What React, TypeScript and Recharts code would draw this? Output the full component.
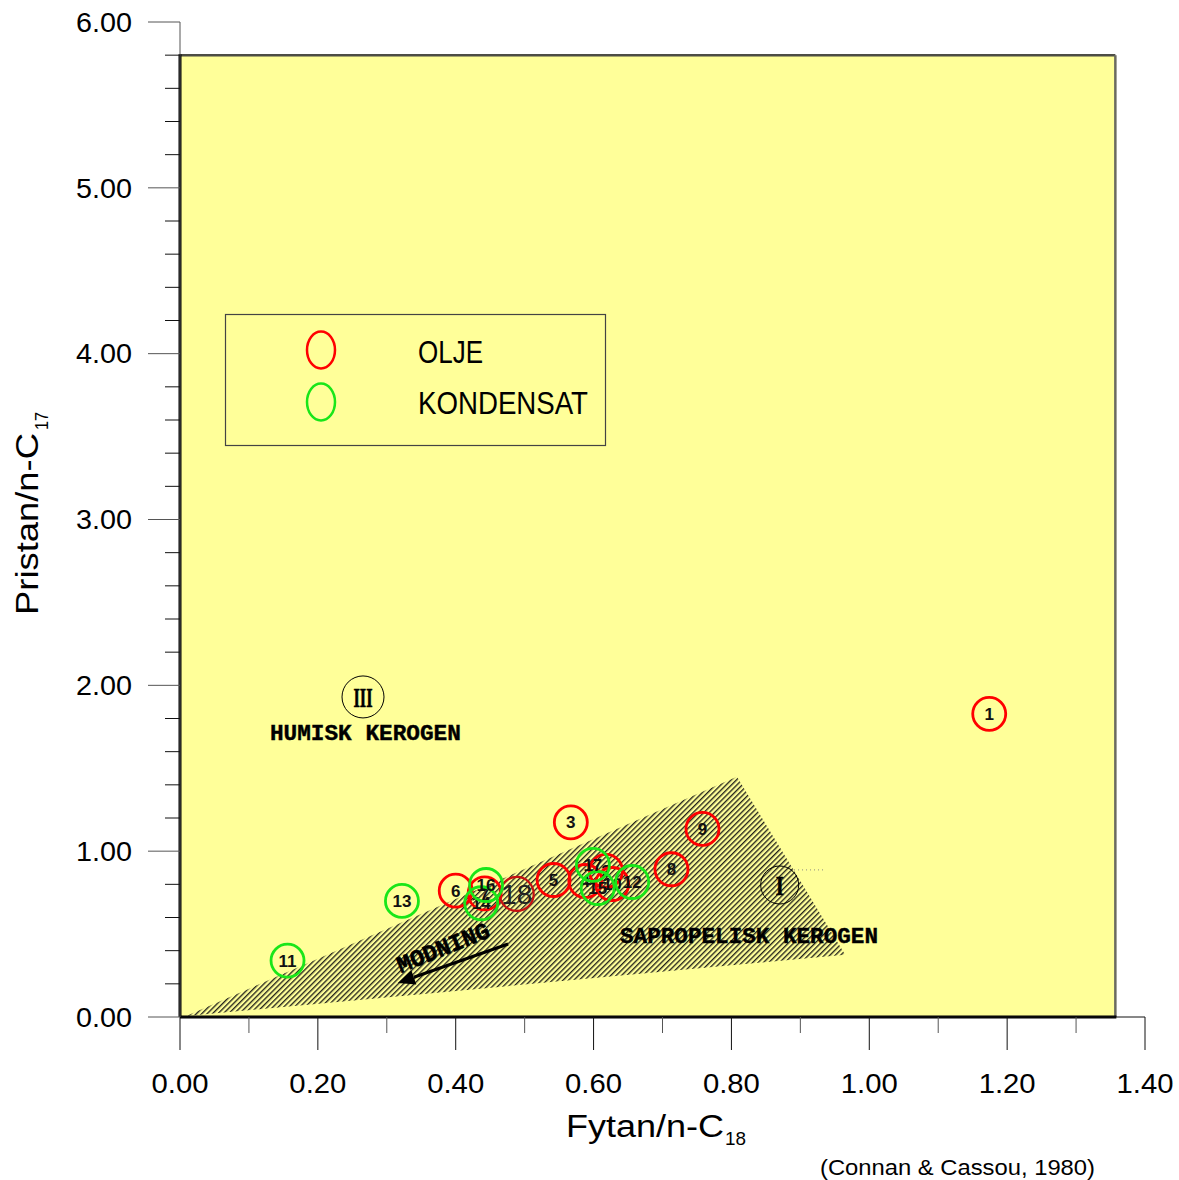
import React from 'react';
import { ScatterChart, Scatter, XAxis, YAxis, ReferenceArea } from 'recharts';

// ---- axis ticks ----
const X_TICKS = [0, 0.1, 0.2, 0.3, 0.4, 0.5, 0.6, 0.7, 0.8, 0.9, 1.0, 1.1, 1.2, 1.3, 1.4];
const Y_TICKS = [
  0, 0.2, 0.4, 0.6, 0.8, 1.0, 1.2, 1.4, 1.6, 1.8, 2.0, 2.2, 2.4, 2.6, 2.8, 3.0,
  3.2, 3.4, 3.6, 3.8, 4.0, 4.2, 4.4, 4.6, 4.8, 5.0, 5.2, 5.4, 5.6, 5.8, 6.0,
];

// ---- series ----
const SERIES_OLJE = 'OLJE';
const SERIES_KONDENSAT = 'KONDENSAT';

const oljeSamples = [
  { x: 1.174, y: 1.828, id: '1' },
  { x: 0.618, y: 0.881, id: '2' },
  { x: 0.567, y: 1.174, id: '3' },
  { x: 0.588, y: 0.82, id: '4' },
  { x: 0.542, y: 0.826, id: '5' },
  { x: 0.4, y: 0.762, id: '6' },
  { x: 0.442, y: 0.745, id: '7' },
  { x: 0.713, y: 0.891, id: '8' },
  { x: 0.758, y: 1.134, id: '9' },
  { x: 0.627, y: 0.802, id: '10' },
];

const oljeReference = [{ x: 0.4885, y: 0.742, id: '18' }];

const kondensatSamples = [
  { x: 0.156, y: 0.34, id: '11' },
  { x: 0.656, y: 0.814, id: '12' },
  { x: 0.322, y: 0.7, id: '13' },
  { x: 0.437, y: 0.686, id: '14' },
  { x: 0.606, y: 0.778, id: '15' },
  { x: 0.444, y: 0.796, id: '16' },
  { x: 0.599, y: 0.917, id: '17' },
];

// ---- kerogen fields and annotations ----
const panelExtent = { x1: 0, x2: 1.357, y1: 0, y2: 5.8 };
const sapropelicField = [
  { x: 0.009, y: 0.006 },
  { x: 0.808, y: 1.448 },
  { x: 0.965, y: 0.375 },
];
const kerogenTypes = [
  { x: 0.2655, y: 1.93, label: 'III', r: 21, w: 19 },
  { x: 0.87, y: 0.796, label: 'I', r: 19, w: 8 },
];
const fieldNames = [
  { x: 0.269, y: 1.719, label: 'HUMISK KEROGEN', w: 191 },
  { x: 0.8255, y: 0.495, label: 'SAPROPELISK KEROGEN', w: 258 },
];
const maturityArrow = [
  { x: 0.476, y: 0.44 },
  { x: 0.316, y: 0.205 },
];
const maturityText = [{ x: 0.3815, y: 0.422, label: 'MODNING', angle: -22 }];
const typeOneGuide = [
  { x: 0.885, y: 0.887 },
  { x: 0.935, y: 0.887 },
];

// ---- layout ----
const W = 1179;
const H = 1180;
const PLOT_LEFT = 180;
const PLOT_BOTTOM = 1017;
const YELLOW = '#FFFF99';
const RED = '#FF0000';
const DARK_RED = '#C81010';
const GREEN = '#19E619';
const SANS = '"Liberation Sans", Arial, Helvetica, sans-serif';
const MONO = '"Liberation Mono", "Courier New", monospace';
const SERIF = '"Liberation Serif", "Times New Roman", serif';

const isMajorY = (v: number) => Math.abs(v - Math.round(v)) < 1e-6;
const isMajorX = (v: number) => Math.round(v * 10) % 2 === 0;

function YTick(props: any) {
  const { y, payload } = props;
  const v = payload.value as number;
  const major = isMajorY(v);
  return (
    <g>
      <line
        x1={PLOT_LEFT - (major ? 32 : 15)}
        x2={PLOT_LEFT}
        y1={y}
        y2={y}
        stroke={major ? '#555' : '#111'}
        strokeWidth={1}
      />
      {major && (
        <text
          x={132}
          y={y}
          dy="0.36em"
          textAnchor="end"
          fontFamily={SANS}
          fontSize={27}
          fill="#000"
          textLength={56}
          lengthAdjust="spacingAndGlyphs"
        >
          {v.toFixed(2)}
        </text>
      )}
    </g>
  );
}

function XTick(props: any) {
  const { x, payload } = props;
  const v = payload.value as number;
  const major = isMajorX(v);
  return (
    <g>
      <line
        x1={x}
        x2={x}
        y1={PLOT_BOTTOM}
        y2={PLOT_BOTTOM + (major ? 33 : 16)}
        stroke={major ? '#111' : '#555'}
        strokeWidth={1}
      />
      {major && (
        <text
          x={x}
          y={1093}
          textAnchor="middle"
          fontFamily={SANS}
          fontSize={27}
          fill="#000"
          textLength={57}
          lengthAdjust="spacingAndGlyphs"
        >
          {v.toFixed(2)}
        </text>
      )}
    </g>
  );
}

function PlotPanel(props: any) {
  const { x, y, width, height } = props;
  return (
    <g>
      <rect x={x} y={y} width={width} height={height} fill={YELLOW} />
      <line x1={x} x2={x + width} y1={y} y2={y} stroke="#4d4d45" strokeWidth={2.5} />
      <line x1={x + width} x2={x + width} y1={y} y2={y + height} stroke="#6b6b60" strokeWidth={2.5} />
      <line x1={x} x2={x} y1={y - 1} y2={y + height} stroke="#000" strokeWidth={3} />
      <line x1={x} x2={x + width + 1} y1={y + height} y2={y + height} stroke="#000" strokeWidth={3} />
    </g>
  );
}

const noMarker = () => <g />;

function hatchedField(props: any) {
  const pts = props.points as { x: number; y: number }[];
  const d = pts.map((p, i) => `${i === 0 ? 'M' : 'L'}${p.x},${p.y}`).join(' ') + ' Z';
  return (
    <g>
      <defs>
        <pattern
          id="sapropel-hatch"
          patternUnits="userSpaceOnUse"
          width={3.8}
          height={3.8}
          patternTransform="rotate(45)"
        >
          <line x1={0.7} y1={0} x2={0.7} y2={3.8} stroke="#111" strokeWidth={1.25} />
        </pattern>
      </defs>
      <path d={d} fill="url(#sapropel-hatch)" stroke="none" />
    </g>
  );
}

function arrowLine(props: any) {
  const [a, b] = props.points as { x: number; y: number }[];
  const ang = Math.atan2(b.y - a.y, b.x - a.x);
  const len = 17;
  const half = 7.5;
  const bx = b.x - len * Math.cos(ang);
  const by = b.y - len * Math.sin(ang);
  const nx = -Math.sin(ang);
  const ny = Math.cos(ang);
  return (
    <g>
      <line x1={a.x} y1={a.y} x2={bx} y2={by} stroke="#000" strokeWidth={3.2} />
      <polygon
        points={`${b.x},${b.y} ${bx + nx * half},${by + ny * half} ${bx - nx * half},${by - ny * half}`}
        fill="#000"
      />
    </g>
  );
}

function dottedGuide(props: any) {
  const [a, b] = props.points as { x: number; y: number }[];
  return (
    <line x1={a.x} y1={a.y} x2={b.x} y2={b.y} stroke="#8a8a80" strokeWidth={1} strokeDasharray="1 3" />
  );
}

function kerogenMark(props: any) {
  const { cx, cy, payload } = props;
  return (
    <g>
      <circle cx={cx} cy={cy} r={payload.r} fill="none" stroke="#000" strokeWidth={1} />
      <text
        x={cx}
        y={cy}
        dy="0.35em"
        textAnchor="middle"
        fontFamily={SERIF}
        fontWeight="bold"
        fontSize={28}
        fill="#000"
        stroke="#000"
        strokeWidth={0.6}
        textLength={payload.w}
        lengthAdjust="spacingAndGlyphs"
      >
        {payload.label}
      </text>
    </g>
  );
}

function fieldName(props: any) {
  const { cx, cy, payload } = props;
  return (
    <text
      x={cx}
      y={cy}
      dy="0.35em"
      textAnchor="middle"
      fontFamily={MONO}
      fontWeight="bold"
      fontSize={22.5}
      fill="#000"
      stroke="#000"
      strokeWidth={0.4}
      textLength={payload.w}
      lengthAdjust="spacingAndGlyphs"
    >
      {payload.label}
    </text>
  );
}

function maturityLabel(props: any) {
  const { cx, cy, payload } = props;
  return (
    <text
      x={cx}
      y={cy}
      dy="0.35em"
      textAnchor="middle"
      fontFamily={MONO}
      fontWeight="bold"
      fontSize={24}
      fill="#000"
      stroke="#000"
      strokeWidth={0.6}
      textLength={98}
      lengthAdjust="spacingAndGlyphs"
      transform={`rotate(${payload.angle} ${cx} ${cy})`}
    >
      {payload.label}
    </text>
  );
}

const sampleMark = (color: string) => (props: any) => {
  const { cx, cy, payload } = props;
  return (
    <g>
      <circle cx={cx} cy={cy} r={16.5} fill="none" stroke={color} strokeWidth={2.8} />
      <text
        x={cx}
        y={cy}
        dy="0.36em"
        textAnchor="middle"
        fontFamily={SANS}
        fontWeight="bold"
        fontSize={17}
        fill="#111"
      >
        {payload.id}
      </text>
    </g>
  );
};

function referenceMark(props: any) {
  const { cx, cy, payload } = props;
  return (
    <g>
      <circle cx={cx} cy={cy} r={17} fill="none" stroke={DARK_RED} strokeWidth={2.2} />
      <text
        x={cx}
        y={cy}
        dy="0.36em"
        textAnchor="middle"
        fontFamily={SANS}
        fontSize={28}
        fill="#222"
      >
        {payload.id}
      </text>
    </g>
  );
}

function LegendBox() {
  return (
    <svg
      width={440}
      height={134}
      style={{ position: 'absolute', left: 224, top: 313, pointerEvents: 'none' }}
    >
      <rect x={1.5} y={1.5} width={380} height={131} fill="none" stroke="#444" strokeWidth={1.2} />
      <ellipse cx={97} cy={37} rx={14} ry={18.5} fill="none" stroke={RED} strokeWidth={2.5} />
      <ellipse cx={97} cy={89} rx={14} ry={18.5} fill="none" stroke={GREEN} strokeWidth={2.5} />
      <text x={194} y={50} fontFamily={SANS} fontSize={32} fill="#000" textLength={65} lengthAdjust="spacingAndGlyphs">
        {SERIES_OLJE}
      </text>
      <text x={194} y={101} fontFamily={SANS} fontSize={32} fill="#000" textLength={170} lengthAdjust="spacingAndGlyphs">
        {SERIES_KONDENSAT}
      </text>
    </svg>
  );
}

function Titles() {
  return (
    <svg width={W} height={H} style={{ position: 'absolute', left: 0, top: 0, pointerEvents: 'none' }}>
      <text x={566} y={1137} fontFamily={SANS} fontSize={31} fill="#000" textLength={158} lengthAdjust="spacingAndGlyphs">
        Fytan/n-C
      </text>
      <text x={725} y={1145} fontFamily={SANS} fontSize={19} fill="#000" textLength={21} lengthAdjust="spacingAndGlyphs">
        18
      </text>
      <text
        transform="translate(38 615) rotate(-90)"
        fontFamily={SANS}
        fontSize={32}
        fill="#000"
        textLength={182}
        lengthAdjust="spacingAndGlyphs"
      >
        Pristan/n-C
      </text>
      <text
        transform="translate(48 430) rotate(-90)"
        fontFamily={SANS}
        fontSize={19}
        fill="#000"
        textLength={18}
        lengthAdjust="spacingAndGlyphs"
      >
        17
      </text>
      <text x={820} y={1175} fontFamily={SANS} fontSize={22} fill="#000" textLength={275} lengthAdjust="spacingAndGlyphs">
        (Connan &amp; Cassou, 1980)
      </text>
    </svg>
  );
}

export default function App() {
  return (
    <div style={{ position: 'fixed', left: 0, top: 0, width: W, height: H, background: '#fff', overflow: 'hidden' }}>
      <ScatterChart width={W} height={H} margin={{ top: 22, right: 34, bottom: 103, left: 80 }}>
        <XAxis
          type="number"
          dataKey="x"
          domain={[0, 1.4]}
          ticks={X_TICKS}
          interval={0}
          height={60}
          tick={<XTick />}
          tickLine={false}
          axisLine={{ stroke: '#111', strokeWidth: 1 }}
          allowDataOverflow
        />
        <YAxis
          type="number"
          dataKey="y"
          domain={[0, 6]}
          ticks={Y_TICKS}
          interval={0}
          width={100}
          tick={<YTick />}
          tickLine={false}
          axisLine={{ stroke: '#555', strokeWidth: 1 }}
          allowDataOverflow
        />
        <ReferenceArea
          x1={panelExtent.x1}
          x2={panelExtent.x2}
          y1={panelExtent.y1}
          y2={panelExtent.y2}
          shape={<PlotPanel />}
          ifOverflow="visible"
        />
        <Scatter data={sapropelicField} line={hatchedField} shape={noMarker} isAnimationActive={false} />
        <Scatter data={typeOneGuide} line={dottedGuide} shape={noMarker} isAnimationActive={false} />
        <Scatter data={maturityArrow} line={arrowLine} shape={noMarker} isAnimationActive={false} />
        <Scatter data={maturityText} shape={maturityLabel} isAnimationActive={false} />
        <Scatter data={fieldNames} shape={fieldName} isAnimationActive={false} />
        <Scatter data={kerogenTypes} shape={kerogenMark} isAnimationActive={false} />
        <Scatter name={SERIES_OLJE} data={oljeSamples} shape={sampleMark(RED)} isAnimationActive={false} />
        <Scatter data={oljeReference} shape={referenceMark} isAnimationActive={false} />
        <Scatter name={SERIES_KONDENSAT} data={kondensatSamples} shape={sampleMark(GREEN)} isAnimationActive={false} />
      </ScatterChart>
      <LegendBox />
      <Titles />
    </div>
  );
}
